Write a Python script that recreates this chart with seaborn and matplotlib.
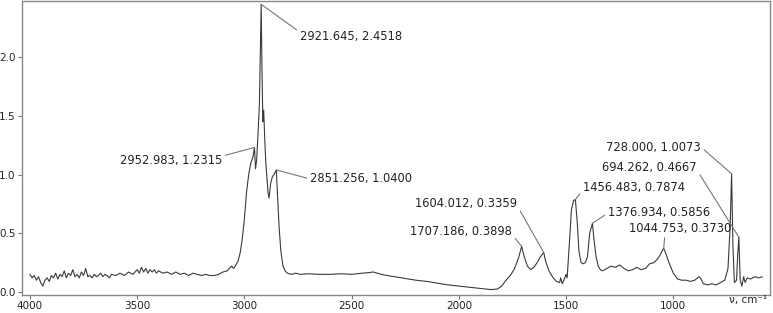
import numpy as np
import pandas as pd
import matplotlib
matplotlib.use("Agg")
import matplotlib.pyplot as plt
import seaborn as sns

# IR spectrum (wavenumber, absorbance)
wavenumber = [4000, 3990, 3980, 3970, 3960, 3950, 3940, 3930, 3920, 3910,
              3900, 3890, 3880, 3870, 3860, 3850, 3840, 3830, 3820, 3810,
              3800, 3790, 3780, 3770, 3760, 3750, 3740, 3730, 3720, 3710,
              3700, 3690, 3680, 3670, 3660, 3650, 3640, 3630, 3620, 3600,
              3580, 3560, 3540, 3520, 3500, 3490, 3480, 3470, 3460, 3450,
              3440, 3430, 3420, 3410, 3400, 3380, 3360, 3340, 3320, 3300,
              3280, 3260, 3240, 3220, 3200, 3180, 3160, 3140, 3120, 3100,
              3080, 3060, 3050, 3040, 3030, 3020, 3010, 3000, 2990, 2980,
              2970, 2960, 2952.983, 2948, 2943, 2935, 2930, 2925, 2921.645, 2918,
              2914, 2910, 2905, 2900, 2895, 2890, 2885, 2878, 2870, 2862,
              2851.256, 2845, 2838, 2830, 2820, 2810, 2800, 2780, 2760, 2740,
              2700, 2650, 2600, 2550, 2500, 2450, 2420, 2400, 2380, 2350,
              2300, 2250, 2200, 2150, 2100, 2050, 2000, 1950, 1900, 1850,
              1820, 1800, 1780, 1760, 1740, 1720, 1707.186, 1695, 1680, 1665,
              1650, 1635, 1620, 1604.012, 1595, 1580, 1560, 1545, 1530, 1525,
              1518, 1510, 1500, 1495, 1485, 1475, 1465, 1456.483, 1448, 1440,
              1430, 1420, 1410, 1400, 1390, 1376.934, 1370, 1360, 1350, 1340,
              1330, 1310, 1290, 1270, 1250, 1230, 1210, 1190, 1170, 1150,
              1130, 1110, 1090, 1070, 1060, 1044.753, 1035, 1020, 1000, 980,
              960, 940, 920, 900, 880, 870, 860, 840, 820, 800,
              780, 760, 745, 735, 728, 722, 715, 705, 700, 694.262,
              688, 680, 672, 665, 655, 640, 620, 600, 585]
absorbance = [0.15, 0.12, 0.14, 0.10, 0.13, 0.08, 0.05, 0.10, 0.12, 0.09,
              0.14, 0.12, 0.16, 0.11, 0.15, 0.13, 0.18, 0.12, 0.16, 0.14,
              0.19, 0.13, 0.15, 0.12, 0.17, 0.14, 0.20, 0.13, 0.14, 0.12,
              0.15, 0.13, 0.14, 0.16, 0.13, 0.15, 0.14, 0.12, 0.15, 0.14,
              0.16, 0.14, 0.17, 0.15, 0.19, 0.16, 0.21, 0.17, 0.20, 0.16,
              0.19, 0.17, 0.19, 0.16, 0.18, 0.16, 0.17, 0.15, 0.17, 0.15,
              0.16, 0.14, 0.16, 0.15, 0.14, 0.15, 0.14, 0.14, 0.15, 0.17,
              0.18, 0.22, 0.20, 0.23, 0.26, 0.33, 0.45, 0.62, 0.85, 1.00,
              1.10, 1.15, 1.2315, 1.05, 1.12, 1.40, 1.60, 2.10, 2.4518, 1.90,
              1.45, 1.55, 1.30, 1.10, 0.98, 0.85, 0.80, 0.92, 0.98, 1.00,
              1.04, 0.80, 0.55, 0.35, 0.22, 0.18, 0.16, 0.15, 0.16, 0.15,
              0.155, 0.15, 0.15, 0.155, 0.15, 0.16, 0.165, 0.17, 0.16, 0.145,
              0.13, 0.115, 0.10, 0.09, 0.075, 0.06, 0.05, 0.04, 0.03, 0.02,
              0.025, 0.05, 0.10, 0.14, 0.20, 0.30, 0.3898, 0.30, 0.22, 0.19,
              0.21, 0.25, 0.30, 0.3359, 0.26, 0.18, 0.12, 0.09, 0.08, 0.12,
              0.07, 0.10, 0.15, 0.12, 0.40, 0.70, 0.78, 0.7874, 0.60, 0.35,
              0.25, 0.24, 0.25, 0.30, 0.50, 0.5856, 0.45, 0.30, 0.22, 0.19,
              0.18, 0.20, 0.22, 0.21, 0.23, 0.20, 0.18, 0.19, 0.21, 0.19,
              0.20, 0.24, 0.25, 0.29, 0.32, 0.3730, 0.33, 0.25, 0.16, 0.11,
              0.10, 0.10, 0.09, 0.10, 0.13, 0.11, 0.07, 0.06, 0.07, 0.06,
              0.08, 0.10, 0.20, 0.55, 1.0073, 0.40, 0.08, 0.10, 0.30, 0.4667,
              0.10, 0.05, 0.13, 0.08, 0.12, 0.11, 0.13, 0.12, 0.13]

# peak labels: peak position, label position, attach point on the label
peak_x = [2921.645, 2952.983, 2851.256, 1604.012, 1707.186,
          1456.483, 1376.934, 1044.753, 728.000, 694.262]
peak_y = [2.4518, 1.2315, 1.0400, 0.3359, 0.3898,
          0.7874, 0.5856, 0.3730, 1.0073, 0.4667]
label_x = [2741, 3104, 2694, 1729, 1752, 1421, 1304, 1206, 1313, 1332]
label_y = [2.18, 1.124, 0.963, 0.75, 0.511, 0.894, 0.673, 0.545, 1.235, 1.065]
label_ha = ["left", "right", "left", "right", "right",
            "left", "left", "left", "left", "left"]
label_rel = [(0, 0.8), (1, 0.8), (0, 0.5), (1, 0.4), (1, 0.3),
             (0, 0.3), (0, 0.5), (0.35, 0), (1, 0.5), (1, 0.3)]

df = pd.DataFrame({"wn": wavenumber, "A": absorbance})

sns.set_style("ticks")
plt.rcParams["font.family"] = ["DejaVu Sans"]

fig = plt.figure(figsize=(7.73, 3.13), dpi=100)
ax = fig.add_axes([22 / 773, 18 / 313, 748 / 773, 294 / 313])

sns.lineplot(data=df, x="wn", y="A", ax=ax, color="#3a3a3a", linewidth=0.8,
             sort=False, estimator=None)

ax.set_xlim(4037, 549)
ax.set_ylim(-0.026, 2.48)
ax.set_xticks([4000, 3500, 3000, 2500, 2000, 1500, 1000])
ax.set_yticks([0.0, 0.5, 1.0, 1.5, 2.0])
ax.yaxis.set_major_formatter(plt.FormatStrFormatter("%.1f"))
ax.tick_params(labelsize=7.5, length=3, width=0.8, color="#777777", pad=1.5,
               labelcolor="#222222")
ax.set_xlabel("")
ax.set_ylabel("")
for sp in ax.spines.values():
    sp.set_visible(True)
    sp.set_color("#888888")
    sp.set_linewidth(1.0)

for px, py, lx, ly, ha, rel in zip(peak_x, peak_y, label_x, label_y,
                                   label_ha, label_rel):
    ax.annotate(f"{px:.3f}, {py:.4f}", xy=(px, py), xytext=(lx, ly),
                ha=ha, va="center", fontsize=8.3, color="#222222",
                arrowprops=dict(arrowstyle="-", color="#777777", lw=0.8,
                                shrinkA=0, shrinkB=0, relpos=rel))

fig.text(748 / 773, 1 - 300 / 313, "ν, cm⁻¹", ha="center", va="center",
         fontsize=7.5, color="#222222")

fig.savefig("out.png", dpi=100)
